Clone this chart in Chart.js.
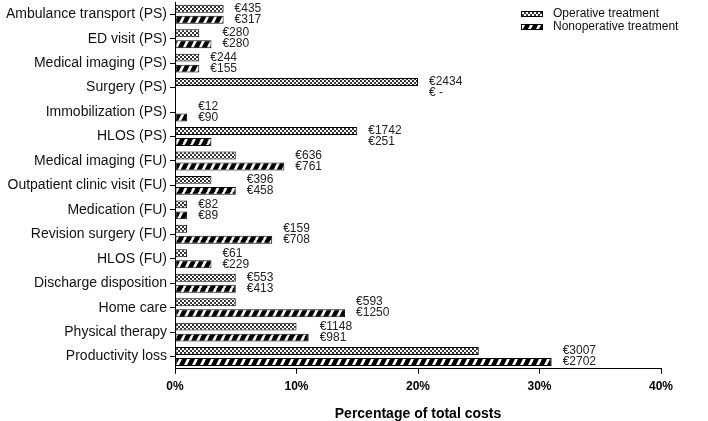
<!DOCTYPE html>
<html>
<head>
<meta charset="utf-8">
<script src="https://cdn.jsdelivr.net/npm/chart.js@4.4.1/dist/chart.umd.min.js"></script>
<style>
    html, body { margin: 0; padding: 0; background: #fff; }
    #wrap { width: 708px; height: 421px; position: relative; }
</style>
</head>
<body>
<div id="wrap"><canvas id="costChart"></canvas></div>
<script>
/* Données du graphique (pourcentage du coût total, arrondi) */
const categories = [
    "Ambulance transport (PS)", "ED visit (PS)", "Medical imaging (PS)", "Surgery (PS)",
    "Immobilization (PS)", "HLOS (PS)", "Medical imaging (FU)", "Outpatient clinic visit (FU)",
    "Medication (FU)", "Revision surgery (FU)", "HLOS (FU)", "Discharge disposition",
    "Home care", "Physical therapy", "Productivity loss"
];
const operativePct = [4, 2, 2, 20, 0, 15, 5, 3, 1, 1, 1, 5, 5, 10, 25];
const nonoperativePct = [4, 3, 2, 0, 1, 3, 9, 5, 1, 8, 3, 5, 14, 11, 31];
const operativeCost = ["€435", "€280", "€244", "€2434", "€12", "€1742", "€636", "€396", "€82", "€159", "€61", "€553", "€593", "€1148", "€3007"];
const nonoperativeCost = ["€317", "€280", "€155", "€ -", "€90", "€251", "€761", "€458", "€89", "€708", "€229", "€413", "€1250", "€981", "€2702"];
const seriesNames = ["Operative treatment", "Nonoperative treatment"];
const xTicks = [0, 10, 20, 30, 40];

const FONT = "'Liberation Sans', Arial, sans-serif";

// Motif damier (opératoire)
function makeChecker() {
    const c = document.createElement("canvas");
    c.width = 4; c.height = 4;
    const g = c.getContext("2d");
    g.fillStyle = "#fff";
    g.fillRect(0, 0, 4, 4);
    g.fillStyle = "#333";
    g.fillRect(0, 0, 2, 2);
    g.fillRect(2, 2, 2, 2);
    return g.createPattern(c, "repeat");
}

// Motif hachures blanches sur fond noir (non opératoire)
function makeStripes() {
    const c = document.createElement("canvas");
    c.width = 8; c.height = 16;
    const g = c.getContext("2d");
    g.fillStyle = "#000";
    g.fillRect(0, 0, 8, 16);
    g.strokeStyle = "#fff";
    g.lineWidth = 2.6;
    [-8, 0, 8].forEach(x0 => {
        g.beginPath();
        g.moveTo(x0, 16);
        g.lineTo(x0 + 8, 0);
        g.stroke();
    });
    return g.createPattern(c, "repeat");
}

const checker = makeChecker();
const stripes = makeStripes();

// Étiquettes de coût à droite de la barre la plus longue
const costLabels = {
    id: "costLabels",
    afterDatasetsDraw(chart) {
        const ctx = chart.ctx;
        const m0 = chart.getDatasetMeta(0).data;
        const m1 = chart.getDatasetMeta(1).data;
        ctx.save();
        ctx.font = "12px " + FONT;
        ctx.fillStyle = "#222";
        ctx.textBaseline = "middle";
        ctx.textAlign = "left";
        categories.forEach((cat, i) => {
            const xEnd = Math.max(m0[i].x, m1[i].x) + 11;
            ctx.fillText(operativeCost[i], xEnd, m0[i].y);
            ctx.fillText(nonoperativeCost[i], xEnd, m1[i].y);
        });
        ctx.restore();
    }
};

// Légende en haut à droite, dans la zone du graphique
const cornerLegend = {
    id: "cornerLegend",
    afterDraw(chart) {
        const ctx = chart.ctx;
        const fills = [checker, stripes];
        const x = 521, y0 = 14;
        ctx.save();
        ctx.font = "12px " + FONT;
        ctx.textBaseline = "middle";
        seriesNames.forEach((name, i) => {
            const y = y0 + i * 13;
            ctx.fillStyle = fills[i];
            ctx.fillRect(x, y - 2.5, 22, 5);
            ctx.strokeStyle = "#000";
            ctx.lineWidth = 1;
            ctx.strokeRect(x + 0.5, y - 2.5, 21, 5);
            ctx.fillStyle = "#111";
            ctx.fillText(name, x + 32, y);
        });
        ctx.restore();
    }
};

const ctx = document.getElementById("costChart");

new Chart(ctx, {
    type: "bar",
    data: {
        labels: categories,
        datasets: [
            {
                label: seriesNames[0],
                data: operativePct,
                backgroundColor: checker,
                borderColor: "#000",
                borderWidth: 1,
                borderSkipped: false,
                categoryPercentage: 0.9,
                barPercentage: 0.72
            },
            {
                label: seriesNames[1],
                data: nonoperativePct,
                backgroundColor: stripes,
                borderColor: "#000",
                borderWidth: 1,
                borderSkipped: false,
                categoryPercentage: 0.9,
                barPercentage: 0.72
            }
        ]
    },
    options: {
        indexAxis: "y",
        responsive: true,
        maintainAspectRatio: false,
        animation: false,
        devicePixelRatio: 1,
        layout: { padding: { top: 2, right: 47, left: 0, bottom: -2 } },
        plugins: {
            legend: { display: false },
            tooltip: { enabled: false }
        },
        scales: {
            x: {
                min: 0,
                max: 40,
                afterBuildTicks: axis => { axis.ticks = xTicks.map(v => ({ value: v })); },
                ticks: {
                    callback: v => v + "%",
                    color: "#000",
                    padding: 6,
                    maxRotation: 0,
                    font: { family: FONT, size: 12, weight: "bold" }
                },
                grid: { drawOnChartArea: false, tickLength: 5, color: "#000" },
                border: { color: "#000", width: 1 },
                title: {
                    display: true,
                    text: "Percentage of total costs",
                    color: "#000",
                    padding: { top: 6, bottom: 0 },
                    font: { family: FONT, size: 14, weight: "bold" }
                }
            },
            y: {
                afterFit: axis => {
                    axis.width = 175;
                    axis.paddingTop = 0;
                    axis.paddingBottom = 0;
                },
                ticks: {
                    color: "#111",
                    padding: 3,
                    autoSkip: false,
                    font: { family: FONT, size: 14 }
                },
                grid: { drawOnChartArea: false, offset: false, tickLength: 5, color: "#000" },
                border: { color: "#000", width: 1 }
            }
        }
    },
    plugins: [costLabels, cornerLegend]
});
</script>
</body>
</html>
